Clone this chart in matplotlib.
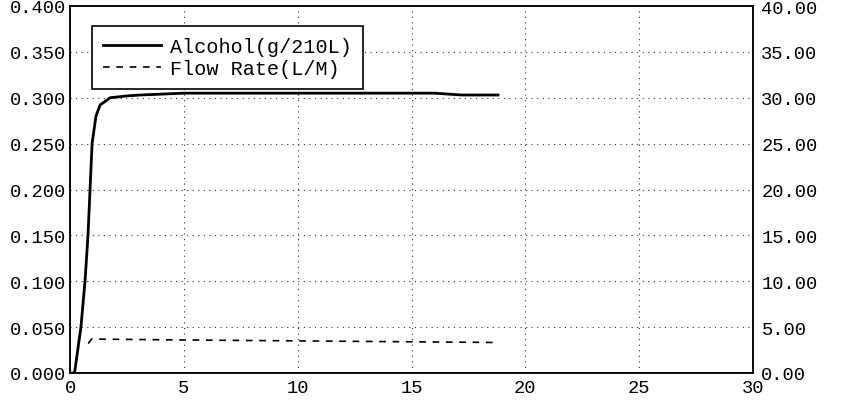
import matplotlib
matplotlib.use("Agg")
import matplotlib.pyplot as plt

# Data
alc_x = [0.0, 0.2, 0.48, 0.66, 0.79, 0.88, 0.97, 1.14, 1.32, 1.76, 2.5, 3.1, 5.0, 10.0, 15.0, 16.0, 17.2, 18.8]
alc_y = [0.0, 0.0, 0.05, 0.10, 0.15, 0.20, 0.25, 0.28, 0.292, 0.300, 0.302, 0.303, 0.305, 0.305, 0.305, 0.305, 0.303, 0.303]

flow_x = [0.8, 0.95, 5.0, 10.0, 15.0, 18.6]
flow_y = [3.2, 3.7, 3.6, 3.5, 3.4, 3.33]

x_ticks = [0, 5, 10, 15, 20, 25, 30]
left_ticks = [0.0, 0.05, 0.10, 0.15, 0.20, 0.25, 0.30, 0.35, 0.40]
right_ticks = [0, 5, 10, 15, 20, 25, 30, 35, 40]

labels = ["Alcohol(g/210L)", "Flow Rate(L/M)"]

font = "Liberation Mono"
plt.rcParams['font.family'] = [font, 'DejaVu Sans Mono']

fig = plt.figure(figsize=(8.5, 4.02), dpi=100)
ax = fig.add_axes([70/850, 28/402, 683/850, 367/402])
ax2 = ax.twinx()

ax.set_xlim(0, 30)
ax.set_ylim(0, 0.4)
ax2.set_ylim(0, 40)

grid_style = dict(color="#333333", linestyle=(0, (1, 4)), linewidth=0.8)
for v in x_ticks[1:-1]:
    ax.axvline(v, **grid_style, zorder=0)
for v in left_ticks[1:-1]:
    ax.axhline(v, **grid_style, zorder=0)

l1, = ax.plot(alc_x, alc_y, color="black", linewidth=2.0, solid_joinstyle="round")
l2, = ax2.plot(flow_x, flow_y, color="black", linewidth=1.2, linestyle=(0, (4, 4)))

ax.set_xticks(x_ticks)
ax.set_xticklabels([str(v) for v in x_ticks])
ax.set_yticks(left_ticks)
ax.set_yticklabels([f"{v:.3f}" for v in left_ticks])
ax2.set_yticks(right_ticks)
ax2.set_yticklabels([f"{v:.2f}" for v in right_ticks])

ax.tick_params(axis="both", length=0, labelsize=13.5, pad=3)
ax.tick_params(axis="x", pad=4)
ax2.tick_params(axis="y", length=0, labelsize=13.5, pad=6)

for a in (ax, ax2):
    for s in a.spines.values():
        s.set_color("black")
        s.set_linewidth(1.1)

leg = ax.legend([l1, l2], labels, loc="upper left", bbox_to_anchor=(0.032, 0.945),
                borderaxespad=0, frameon=True, fancybox=False, fontsize=14.5,
                handlelength=2.9, handletextpad=0.45, borderpad=0.55, labelspacing=0.12)
leg.get_frame().set_edgecolor("black")
leg.get_frame().set_linewidth(1.2)
leg.get_frame().set_alpha(1)
leg.set_zorder(10)
ax.set_zorder(ax2.get_zorder() + 1)
ax.patch.set_visible(False)

fig.savefig("out.png", dpi=100)
